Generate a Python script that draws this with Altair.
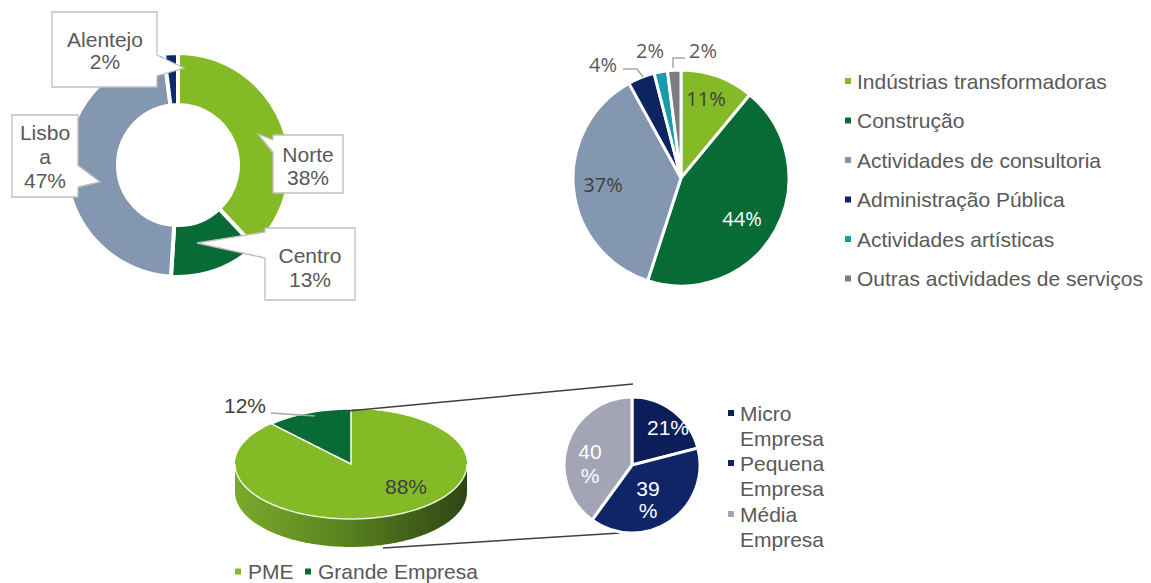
import altair as alt
import numpy as np
import pandas as pd

W, H = 1135, 575
OX, OY = 8, 8
FONT = "Liberation Sans"
TXT = "#595959"
DARK = "#404040"

# ---------------- data ----------------
region_names = ["Norte", "Centro", "Lisboa", "Alentejo"]
region_values = [38, 13, 47, 2]
region_colors = ["#85BA27", "#086B36", "#8497B0", "#0E2A6C"]
region_labels = [["Norte", "38%"], ["Centro", "13%"], ["Lisbo", "a", "47%"], ["Alentejo", "2%"]]

sector_names = ["Indústrias transformadoras", "Construção", "Actividades de consultoria",
                "Administração Pública", "Actividades artísticas", "Outras actividades de serviços"]
sector_values = [11, 44, 37, 4, 2, 2]
sector_colors = ["#85BA27", "#086B36", "#8497B0", "#0D2463", "#1A9BAA", "#7A7D80"]
sector_labels = ["11%", "44%", "37%", "4%", "2%", "2%"]

size_names = ["PME", "Grande Empresa"]
size_values = [88, 12]
size_colors = ["#85BA27", "#086B36"]
size_labels = ["88%", "12%"]

pme_names = [["Micro", "Empresa"], ["Pequena", "Empresa"], ["Média", "Empresa"]]
pme_values = [21, 39, 40]
pme_colors = ["#0B1E5A", "#0F2568", "#A3A5B7"]
pme_labels = [["21%"], ["39", "%"], ["40", "%"]]

# ---------------- layout ----------------
donut_c, donut_r, donut_r2 = (178, 165), 112, 60
callout_boxes = {"Norte": (273, 135, 343, 193), "Centro": (265, 228, 355, 300),
                 "Lisboa": (12, 115, 78, 197), "Alentejo": (52, 12, 157, 87)}
# base_x, base_top, base_bottom, apex_x, apex_y, inward direction
callout_ptrs = {"Norte": (273, 140, 153, 258, 134, 1), "Centro": (265, 232, 258, 197, 243, 1),
                "Lisboa": (78, 165, 187, 100, 182, -1), "Alentejo": (157, 55, 76, 184, 68, -1)}
callout_text = {"Norte": (308, [162, 185]), "Centro": (310, [263, 287]),
                "Lisboa": (45, [140, 164, 188]), "Alentejo": (105, [47, 69])}

pie2_c, pie2_r = (681, 178), 108
pie2_lab_pos = [(706, 106), (742, 226), (603, 192), (603, 72), (650, 58), (703, 58)]
pie2_lab_col = [DARK, "#FFFFFF", DARK, TXT, TXT, TXT]
pie2_leaders = [[(623, 69), (637, 69), (643, 77)], [(673, 68), (673, 58), (685, 58)]]
leg1_x, leg1_y0, leg1_dy = 848, 81, 39.5

e_cx, e_cy, e_rx, e_ry, e_depth = 351, 464, 116, 55, 28
size_lab_pos = [(406, 494), (245, 413)]
size_leader = [[(271, 413), (315, 416)]]
connectors = [[(348, 411), (633, 384)], [(383, 548), (620, 533)]]

pie3_c, pie3_r = (632, 465), 68
pie3_lab_pos = [(668, [435]), (648, [496, 518]), (590, [459, 483])]
leg3_x, leg3_y = 731, [413, 463, 514]
leg4 = [(238, 571.5), (308, 571.5)]

# ---------------- helpers ----------------
xs = alt.Scale(domain=[OX, OX + W], nice=False, zero=False)
ys = alt.Scale(domain=[OY + H, OY], nice=False, zero=False)


def X(f="x"):
    return alt.X(f"{f}:Q", scale=xs, axis=None)


def Y(f="y"):
    return alt.Y(f"{f}:Q", scale=ys, axis=None, stack=None)


def pie(names, values, colors, c, r, r2=0, sw=3):
    df = pd.DataFrame({"name": names, "v": values, "c": colors, "i": list(range(len(values)))})
    return alt.Chart(df).mark_arc(radius=r, radius2=r2, stroke="white", strokeWidth=sw).encode(
        theta=alt.Theta("v:Q", stack=True),
        color=alt.Color("c:N", scale=None),
        order=alt.Order("i:Q"),
        x=alt.value(c[0] - OX), y=alt.value(c[1] - OY),
    )


def texts(rows, size=21, font=FONT, align="center"):
    df = pd.DataFrame(rows, columns=["t", "x", "y", "c"])
    return alt.Chart(df).mark_text(font=font, fontSize=size, align=align, baseline="alphabetic").encode(
        x=X(), y=Y(), text=alt.Text("t:N"), color=alt.Color("c:N", scale=None))


def polylines(segs, color, width):
    rows = []
    for g, pts in enumerate(segs):
        for o, (x, y) in enumerate(pts):
            rows.append({"g": g, "o": o, "x": x, "y": y})
    return alt.Chart(pd.DataFrame(rows)).mark_line(color=color, strokeWidth=width).encode(
        x=X(), y=Y(), detail="g:N", order="o:Q")


def squares(rows, size=36):
    df = pd.DataFrame(rows, columns=["x", "y", "c"])
    return alt.Chart(df).mark_square(size=size, opacity=1).encode(
        x=X(), y=Y(), color=alt.Color("c:N", scale=None))


layers = []

# ---------------- donut ----------------
layers.append(pie(region_names, region_values, region_colors, donut_c, donut_r, donut_r2, sw=4))
box_df = pd.DataFrame([dict(x=b[0], y=b[1], x2=b[2], y2=b[3]) for b in callout_boxes.values()])
layers.append(alt.Chart(box_df).mark_rect(fill="white", stroke="#BFBFBF", strokeWidth=1.3).encode(
    x=X(), x2="x2:Q", y=Y(), y2="y2:Q"))
ptr_rows, ptr_lines = [], []
for g, (k, (bx, bt, bb, ax, ay, d)) in enumerate(callout_ptrs.items()):
    ptr_rows.append(dict(g=g, x=ax, y=ay, y2=ay))
    ptr_rows.append(dict(g=g, x=bx + 1.5 * d, y=bt, y2=bb))
    ptr_lines.append([(bx, bt), (ax, ay), (bx, bb)])
layers.append(alt.Chart(pd.DataFrame(ptr_rows)).mark_area(fill="white", opacity=1).encode(
    x=X(), y=Y(), y2="y2:Q", detail="g:N"))
layers.append(polylines(ptr_lines, "#BFBFBF", 1.3))
rows = []
for name, lines in zip(region_names, region_labels):
    tx, tys = callout_text[name]
    for t, ty in zip(lines, tys):
        rows.append((t, tx, ty, TXT))
layers.append(texts(rows))

# ---------------- sector pie ----------------
layers.append(pie(sector_names, sector_values, sector_colors, pie2_c, pie2_r, 0, sw=3))
rows = [(t, p[0], p[1], c) for t, p, c in zip(sector_labels, pie2_lab_pos, pie2_lab_col)]
layers.append(texts(rows, size=20, font="Open Sans"))
layers.append(polylines(pie2_leaders, "#A6A6A6", 1.5))
layers.append(squares([(leg1_x, leg1_y0 + i * leg1_dy, c) for i, c in enumerate(sector_colors)]))
layers.append(texts([(n, leg1_x + 9, leg1_y0 + i * leg1_dy + 7.5, TXT) for i, n in enumerate(sector_names)],
                    align="left"))

# ---------------- 3D pie (PME / Grande Empresa) ----------------
s = np.linspace(0, np.pi, 181)
ex = e_cx - e_rx * np.cos(s)
ey_top = e_cy - e_ry * np.sin(s)
ey_bot = e_cy + e_ry * np.sin(s)
side_df = pd.DataFrame({"x": ex, "y": ey_bot, "y2": ey_bot + e_depth})
side_grad = alt.Gradient(gradient="linear", x1=0, x2=1, y1=0, y2=0, stops=[
    alt.GradientStop(offset=0, color="#7AAA2A"),
    alt.GradientStop(offset=0.45, color="#5A851F"),
    alt.GradientStop(offset=1, color="#2F4514")])
layers.append(alt.Chart(side_df).mark_area(color=side_grad, opacity=1).encode(x=X(), y=Y(), y2="y2:Q"))
face_df = pd.DataFrame({"x": ex, "y": ey_top, "y2": ey_bot})
layers.append(alt.Chart(face_df).mark_area(color=size_colors[0], opacity=1).encode(x=X(), y=Y(), y2="y2:Q"))
a0 = 2 * np.pi * size_values[0] / sum(size_values)
th = np.linspace(a0, 2 * np.pi, 60)
wx = e_cx + e_rx * np.sin(th)
wy = e_cy - e_ry * np.cos(th)
wy2 = e_cy + (wy[0] - e_cy) * (e_cx - wx) / (e_cx - wx[0])
wedge_df = pd.DataFrame({"x": wx, "y": wy, "y2": wy2})
layers.append(alt.Chart(wedge_df).mark_area(color=size_colors[1], opacity=1, stroke="white",
                                            strokeWidth=1.5).encode(x=X(), y=Y(), y2="y2:Q"))
rim_df = pd.DataFrame({"x": ex, "y": ey_bot})
layers.append(alt.Chart(rim_df).mark_line(color="white", strokeWidth=1.5, opacity=0.85).encode(x=X(), y=Y()))
layers.append(texts([(size_labels[0], *size_lab_pos[0], DARK), (size_labels[1], *size_lab_pos[1], DARK)]))
layers.append(polylines(size_leader, "#A6A6A6", 1.5))
layers.append(polylines(connectors, "#404040", 1.5))
layers.append(squares([(leg4[i][0], leg4[i][1], size_colors[i]) for i in range(2)]))
layers.append(texts([(size_names[i], leg4[i][0] + 10, leg4[i][1] + 7.5, TXT) for i in range(2)], align="left"))

# ---------------- small pie (PME breakdown) ----------------
layers.append(pie(["Micro Empresa", "Pequena Empresa", "Média Empresa"], pme_values, pme_colors,
                  pie3_c, pie3_r, 0, sw=3))
rows = []
for lines, (tx, tys) in zip(pme_labels, pie3_lab_pos):
    for t, ty in zip(lines, tys):
        rows.append((t, tx, ty, "#FFFFFF"))
layers.append(texts(rows))
layers.append(squares([(leg3_x, leg3_y[i], pme_colors[i]) for i in range(3)]))
rows = []
for i, lines in enumerate(pme_names):
    for j, t in enumerate(lines):
        rows.append((t, leg3_x + 9, leg3_y[i] + 7.5 + 25 * j, TXT))
layers.append(texts(rows, align="left"))

chart = (alt.layer(*layers)
         .resolve_scale(theta="independent")
         .properties(width=W, height=H, padding=0, autosize="none", background="white")
         .configure_view(stroke=None))

chart.save("out.html", embed_options={"renderer": "svg", "actions": False})
